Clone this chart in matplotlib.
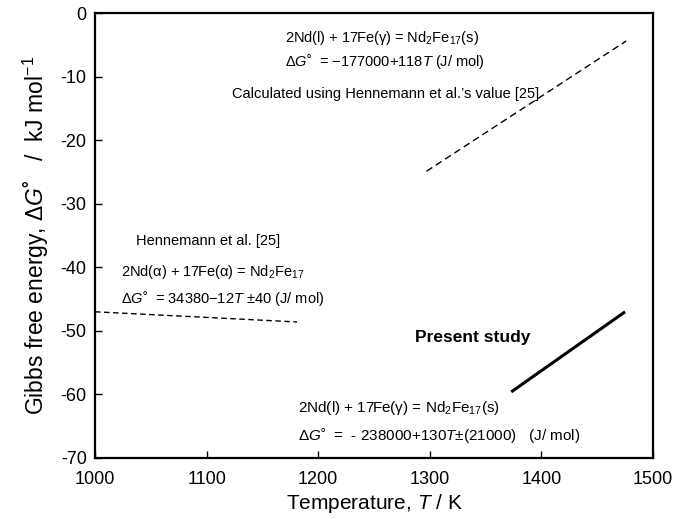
import matplotlib
matplotlib.use("Agg")
import matplotlib.pyplot as plt

plt.rcParams['font.family'] = ['Liberation Sans', 'DejaVu Sans']
plt.rcParams['mathtext.fontset'] = 'custom'
plt.rcParams['mathtext.rm'] = 'Liberation Sans'
plt.rcParams['mathtext.it'] = 'Liberation Sans:italic'
plt.rcParams['mathtext.bf'] = 'Liberation Sans:bold'
plt.rcParams['axes.unicode_minus'] = False

# Dados
henn_T = [1000, 1181]
henn_G = [-47.0, -48.6]

calc_T = [1297, 1476]
calc_G = [-24.9, -4.4]

pres_T = [1373, 1475]
pres_G = [-59.6, -47.0]

xticks = [1000, 1100, 1200, 1300, 1400, 1500]
yticks = [0, -10, -20, -30, -40, -50, -60, -70]

fig = plt.figure(figsize=(6.89, 5.19), dpi=100)
ax = fig.add_axes([95/689, 1-458/519, 558/689, 445/519])

ax.plot(henn_T, henn_G, color='black', lw=1.0, dashes=(4, 2.5))
ax.plot(calc_T, calc_G, color='black', lw=1.0, dashes=(5, 3))
ax.plot(pres_T, pres_G, color='black', lw=2.2, solid_capstyle='butt')

ax.set_xlim(1000, 1500)
ax.set_ylim(-70, 0)
ax.set_xticks(xticks)
ax.set_yticks(yticks)
ax.tick_params(direction='in', length=5, width=1, labelsize=13)
ax.tick_params(axis='x', pad=9)
ax.tick_params(axis='y', pad=6)
for s in ax.spines.values():
    s.set_linewidth(1.6)

dg = '\u0394$\\mathit{G}$\u02da'

ax.set_xlabel('Temperature, $\\mathit{T}$ / K', fontsize=15, labelpad=3)
ax.set_ylabel('Gibbs free energy, ' + dg + '   /  kJ mol$^{\\mathregular{-1}}$', fontsize=16.5, labelpad=7)

fs = 10.5

# Textos de cima
ax.text(1170, -3.9, '2Nd(l) + 17Fe(\u03b3) = Nd$_2$Fe$_{17}$(s)', fontsize=fs, va='center')
ax.text(1170, -7.7, dg + '  = \u2212177000+118$\\mathit{T}$ (J/ mol)', fontsize=fs, va='center')
ax.text(1123, -12.7, 'Calculated using Hennemann et al.\u2019s value [25]', fontsize=fs, va='center')

# Hennemann
ax.text(1037, -35.9, 'Hennemann et al. [25]', fontsize=fs, va='center')
ax.text(1023, -40.8, '2Nd(\u03b1) + 17Fe(\u03b1) = Nd$_2$Fe$_{17}$', fontsize=fs, va='center')
ax.text(1023, -44.9, dg + '  = 34380\u221212$\\mathit{T}$ \u00b140 (J/ mol)', fontsize=fs, va='center')

# Present study
ax.text(1287, -51.1, 'Present study', fontsize=12.5, fontweight='bold', va='center')
ax.text(1182, -62.1, '2Nd(l) + 17Fe(\u03b3) = Nd$_2$Fe$_{17}$(s)', fontsize=fs + 0.5, va='center')
ax.text(1182, -66.5, dg + '  =  - 238000+130$\\mathit{T}$\u00b1(21000)   (J/ mol)', fontsize=fs + 0.5, va='center')

fig.savefig('out.png', dpi=100)
